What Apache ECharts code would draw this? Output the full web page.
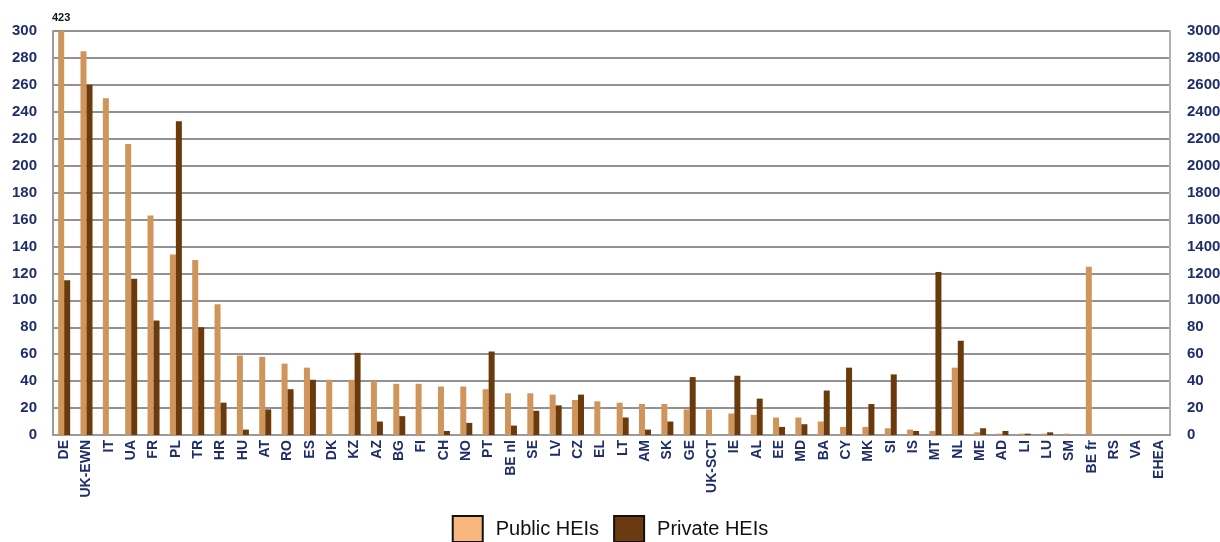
<!DOCTYPE html>
<html>
<head>
<meta charset="utf-8">
<style>
  html, body { margin: 0; padding: 0; background: #fff; }
  #main { width: 1220px; height: 542px; }
</style>
<script src="https://cdn.jsdelivr.net/npm/echarts@6/dist/echarts.min.js"></script>
</head>
<body>
<div id="main"></div>
<script>
var categories = ['DE', 'UK-EWN', 'IT', 'UA', 'FR', 'PL', 'TR', 'HR', 'HU', 'AT', 'RO', 'ES', 'DK', 'KZ', 'AZ', 'BG', 'FI', 'CH', 'NO', 'PT',
  'BE nl', 'SE', 'LV', 'CZ', 'EL', 'LT', 'AM', 'SK', 'GE', 'UK-SCT', 'IE', 'AL', 'EE', 'MD', 'BA', 'CY', 'MK', 'SI', 'IS', 'MT',
  'NL', 'ME', 'AD', 'LI', 'LU', 'SM', 'BE fr', 'RS', 'VA', 'EHEA'];

var publicHEIs = [423, 285, 250, 216, 163, 134, 130, 97, 59, 58, 53, 50, 41, 41, 40, 38, 38, 36, 36, 34,
  31, 31, 30, 26, 25, 24, 23, 23, 19, 19, 16, 15, 13, 13, 10, 6, 6, 5, 4, 3,
  50, 2, 1, 1, 1, 1, 125, null, null, null];

var privateHEIs = [115, 260, 0, 116, 85, 233, 80, 24, 4, 19, 34, 41, 0, 61, 10, 14, 0, 3, 9, 62,
  7, 18, 22, 30, 0, 13, 4, 10, 43, 0, 44, 27, 6, 8, 33, 50, 23, 45, 3, 121,
  70, 5, 3, 1, 2, 0, 0, null, null, null];

// right-hand axis labels as printed in the original
var rightLabels = ['0', '20', '40', '60', '80', '1000', '1200', '1400', '1600', '1800', '2000',
  '2200', '2400', '2600', '2800', '3000'];

var yMax = 300;
var navy = '#1f2d6b';

var dom = document.getElementById('main');
var myChart = echarts.init(dom, null, { renderer: 'canvas' });

// values above the axis maximum get their real value printed on top
var publicData = publicHEIs.map(function (v) {
  if (v != null && v > yMax) {
    return { value: v, label: { show: true, position: 'top', distance: 8, formatter: String(v),
      color: '#111', fontWeight: 'bold', fontSize: 11, fontFamily: 'Liberation Sans Narrow, Arial' } };
  }
  return v;
});

var option = {
  animation: false,
  backgroundColor: '#fff',
  grid: { left: 53, right: 50, top: 31, bottom: 107, containLabel: false, outerBoundsMode: 'none' },
  legend: {
    bottom: -6,
    left: 'center',
    itemWidth: 30,
    itemHeight: 26,
    itemGap: 14,
    textStyle: { fontFamily: 'Liberation Sans Narrow, Arial', fontSize: 20, color: '#111', padding: [0, 0, 0, 8] },
    data: [
      { name: 'Public HEIs', icon: 'rect', itemStyle: { color: '#f8b77c', borderColor: '#111', borderWidth: 2 } },
      { name: 'Private HEIs', icon: 'rect', itemStyle: { color: '#6b3a10', borderColor: '#111', borderWidth: 2 } }
    ]
  },
  xAxis: {
    type: 'category',
    data: categories,
    axisLine: { show: true, lineStyle: { color: '#9a9a9a', width: 2 } },
    axisTick: { show: false },
    axisLabel: {
      rotate: 90,
      interval: 0,
      margin: 5,
      color: navy,
      fontWeight: 'bold',
      fontSize: 14,
      fontFamily: 'Liberation Sans, Arial'
    }
  },
  yAxis: [
    {
      type: 'value',
      min: 0,
      max: yMax,
      interval: 20,
      axisLine: { show: true, lineStyle: { color: '#9a9a9a', width: 2 } },
      axisTick: { show: false },
      splitLine: { show: true, lineStyle: { color: '#6e6e6e', width: 1.5 } },
      axisLabel: {
        margin: 16,
        color: navy,
        fontWeight: 'bold',
        fontSize: 15,
        fontFamily: 'Liberation Sans, Arial'
      }
    },
    {
      type: 'value',
      position: 'right',
      min: 0,
      max: yMax,
      interval: 20,
      axisLine: { show: true, lineStyle: { color: '#b0b0b0', width: 2 } },
      axisTick: { show: false },
      splitLine: { show: false },
      axisLabel: {
        margin: 17,
        color: navy,
        fontWeight: 'bold',
        fontSize: 15,
        fontFamily: 'Liberation Sans, Arial',
        formatter: function (v) { return rightLabels[Math.round(v / 20)]; }
      }
    }
  ],
  series: [
    {
      name: 'Public HEIs',
      type: 'bar',
      data: publicData,
      barWidth: 6,
      barGap: '0%',
      clip: true,
      itemStyle: { color: '#cf955a' }
    },
    {
      name: 'Private HEIs',
      type: 'bar',
      data: privateHEIs,
      barWidth: 6,
      clip: true,
      itemStyle: { color: '#6b3a0c' }
    }
  ]
};

myChart.setOption(option);
window.addEventListener('resize', myChart.resize);
</script>
</body>
</html>
